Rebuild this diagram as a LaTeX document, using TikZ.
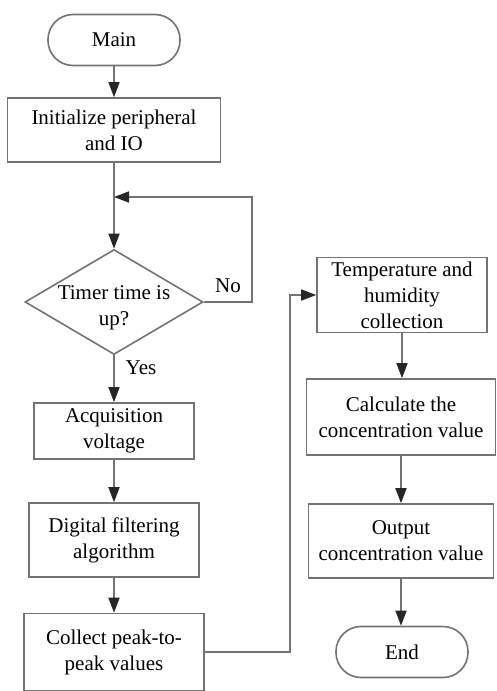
\documentclass[tikz,border=0pt]{standalone}
\usepackage{fontspec}
\setmainfont{Liberation Serif}
\usetikzlibrary{arrows.meta,shapes.geometric}
\begin{document}
\begin{tikzpicture}[x=1pt,y=-1pt,
% common options for process blocks:
block/.style = {draw=black!55, line width=1.6pt, align=center,
            font=\fontsize{21}{26}\selectfont, inner sep=0},
% common options for start and end:
terminal/.style = {block, rounded corners=25pt,
            minimum width=132pt, minimum height=51pt},
% common options for the decision:
decision/.style = {diamond, draw=black!55, line width=1.6pt, inner sep=0,
            minimum width=178pt, minimum height=105pt},
flow/.style = {draw=black!55, line width=1.6pt,
            -{Triangle[length=15pt,width=11pt,color=black!85]}},
tag/.style = {font=\fontsize{21}{26}\selectfont, inner sep=0}]
\useasboundingbox (0,0) rectangle (496,691);
% left column
\node[terminal] (main) at (114,40) {Main};
\node[block, minimum width=213pt, minimum height=64pt] (init) at (114,130) {Initialize peripheral\\and IO};
\coordinate (join) at (114,197);
\node[decision, label={[tag, align=center, yshift=-6pt]center:Timer time is\\up?}] (timer) at (114,302) {};
\node[block, minimum width=160pt, minimum height=56pt] (acq) at (114,431) {Acquisition\\voltage};
\node[block, minimum width=170pt, minimum height=74pt] (filt) at (114,540) {Digital filtering\\algorithm};
\node[block, minimum width=180pt, minimum height=77pt] (coll) at (114,652) {Collect peak-to-\\peak values};
% right column
\node[block, minimum width=170pt, minimum height=75pt] (temp) at (402,295) {Temperature and\\humidity\\collection};
\node[block, minimum width=189pt, minimum height=76pt] (calc) at (401,417) {Calculate the\\concentration value};
\node[block, minimum width=185pt, minimum height=74pt] (outp) at (401,541) {Output\\concentration value};
\node[terminal] (end) at (402,652) {End};
% branch labels
\node[tag] (no) at (228,286) {No};
\node[tag] (yes) at (141,368) {Yes};
% turning points
\coordinate (loopx) at (252,0);
\coordinate (turnx) at (290,0);
\draw[flow] (main.south) to (init.north);
\draw[flow] (init.south) to (timer.north);
\draw[flow] (timer.east) -- (timer.east -| loopx) |- (join);
\draw[flow] (timer.south) to (acq.north);
\draw[flow] (acq.south) to (filt.north);
\draw[flow] (filt.south) to (coll.north);
\draw[flow] (coll.east) -- (coll.east -| turnx) |- (temp.west);
\draw[flow] (temp.south) to (temp.south |- calc.north);
\draw[flow] (calc.south) to (calc.south |- outp.north);
\draw[flow] (outp.south) to (outp.south |- end.north);
\end{tikzpicture}
\end{document}
